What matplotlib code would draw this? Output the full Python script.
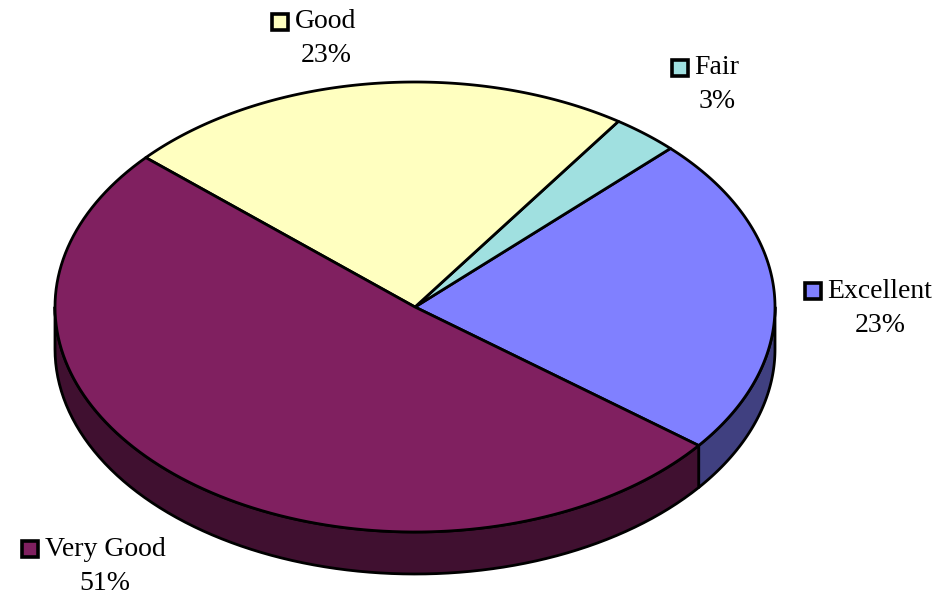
import numpy as np
import matplotlib
matplotlib.use("Agg")
import matplotlib.pyplot as plt
from matplotlib.patches import Polygon, Rectangle

# data
categories = ["Excellent", "Fair", "Good", "Very Good"]
values = [23, 3, 23, 51]
pct_labels = ["23%", "3%", "23%", "51%"]

# colours: top face and side face
top_colors = ["#8080FF", "#A0E0E0", "#FFFFC0", "#802060"]
side_colors = ["#404080", "#507070", "#808060", "#401030"]

# label spots (centre of name text, y of name line) in pixels
label_pos = [(880, 291), (717, 68), (326, 22), (105, 549)]

W, H = 938, 595
fig = plt.figure(figsize=(W / 100, H / 100), dpi=100)
ax = fig.add_axes([0, 0, 1, 1])
ax.set_xlim(0, W)
ax.set_ylim(H, 0)
ax.axis("off")

# pie geometry (pixels)
cx, cy, rx, ry, depth = 415, 307, 360, 225, 42
start = -38.0


def pt(a, dy=0.0):
    a = np.radians(a)
    return cx + rx * np.cos(a), cy - ry * np.sin(a) + dy


fracs = np.array(values) / sum(values)
edges = start + 360 * np.concatenate([[0], np.cumsum(fracs)])

# side faces (front half only, angles 180..360)
for i in range(len(values)):
    a0, a1 = edges[i], edges[i + 1]
    for off in (-360, 0, 360):
        lo, hi = max(a0 + off, 180), min(a1 + off, 360)
        if hi <= lo:
            continue
        t = np.linspace(lo, hi, 80)
        top = [pt(a) for a in t]
        bot = [pt(a, depth) for a in t[::-1]]
        ax.add_patch(Polygon(top + bot, closed=True, fc=side_colors[i],
                             ec="black", lw=2.0, joinstyle="round"))

# top faces
for i in range(len(values)):
    t = np.linspace(edges[i], edges[i + 1], 120)
    verts = [(cx, cy)] + [pt(a) for a in t]
    ax.add_patch(Polygon(verts, closed=True, fc=top_colors[i],
                         ec="black", lw=2.0, joinstyle="round"))

# labels
fig.canvas.draw()
rend = fig.canvas.get_renderer()
for i, (lx, ly) in enumerate(label_pos):
    name = ax.text(lx, ly, categories[i], ha="center", va="center",
                   fontsize=20, family="Liberation Serif")
    ax.text(lx, ly + 34, pct_labels[i], ha="center", va="center",
            fontsize=20, family="Liberation Serif")
    bb = name.get_window_extent(rend)
    left = bb.x0
    s = 16
    ax.add_patch(Rectangle((left - 7 - s, ly - s / 2), s, s,
                           fc=top_colors[i], ec="black", lw=2.6))

fig.savefig("out.png", dpi=100)
